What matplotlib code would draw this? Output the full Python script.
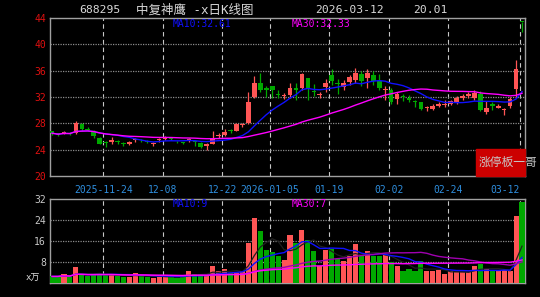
import matplotlib.pyplot as plt
import numpy as np
import pandas as pd

plt.rcParams['font.family'] = ['DejaVu Sans Mono', 'Noto Sans CJK SC']

# trading days (weekdays minus exchange holidays)
holidays = ['2026-01-01', '2026-01-02', '2026-02-16', '2026-02-17', '2026-02-18',
            '2026-02-19', '2026-02-20', '2026-02-23']
dates = pd.bdate_range('2025-11-11', '2026-03-12')
dates = dates[~dates.isin(pd.to_datetime(holidays))]

opens = [26.8, 26.5, 26.5, 26.6, 26.5, 27.9, 27.2, 26.9, 25.8, 25.1,
         25.2, 25.3, 25.0, 24.8, 25.4, 25.5, 25.3, 24.8, 25.4, 25.6,
         25.8, 25.2, 25.1, 25.3, 25.3, 25.0, 24.5, 24.9, 26.1, 26.2,
         27.0, 26.9, 27.7, 28.1, 32.0, 34.2, 33.3, 33.6, 32.4, 32.1,
         32.3, 33.3, 33.3, 34.9, 32.9, 32.3, 33.5, 35.3, 34.1, 33.5,
         34.3, 34.6, 35.5, 34.9, 35.3, 34.4, 33.0, 33.1, 31.7, 32.2,
         31.8, 31.3, 31.2, 30.3, 30.2, 30.7, 30.8, 31.0, 31.2, 31.9,
         32.2, 31.9, 32.5, 29.7, 30.9, 30.4, 30.1, 30.7, 33.2, 43.46]
highs = [26.9, 26.6, 26.8, 26.7, 28.4, 28.0, 27.4, 27.0, 25.9, 25.3,
         25.9, 25.4, 25.2, 25.3, 25.8, 25.6, 25.4, 25.1, 25.8, 26.0,
         25.9, 25.3, 25.2, 25.7, 25.4, 25.1, 25.0, 26.9, 26.6, 27.2,
         27.2, 28.0, 28.1, 32.7, 35.2, 35.7, 33.7, 33.7, 33.0, 32.6,
         34.1, 34.1, 35.6, 34.9, 34.0, 32.8, 34.8, 36.2, 34.8, 34.6,
         35.4, 36.4, 35.9, 36.2, 35.9, 35.5, 33.6, 33.3, 32.8, 32.4,
         32.3, 31.5, 31.3, 30.7, 30.9, 31.3, 31.5, 31.6, 32.2, 32.4,
         32.7, 33.0, 32.9, 31.4, 31.2, 30.9, 30.3, 32.0, 37.6, 43.46]
lows = [26.3, 26.0, 26.4, 26.2, 26.4, 26.9, 26.8, 25.7, 24.8, 24.4,
        24.9, 24.9, 24.6, 24.7, 25.2, 25.1, 25.0, 24.6, 25.2, 25.5,
        25.4, 25.0, 24.9, 25.2, 24.6, 24.2, 23.9, 24.8, 25.7, 26.1,
        26.5, 26.8, 27.5, 27.9, 31.9, 32.8, 32.0, 31.8, 31.9, 31.7,
        31.8, 31.5, 33.1, 31.5, 32.2, 31.8, 32.8, 33.8, 32.4, 33.1,
        33.8, 34.1, 33.6, 33.3, 33.8, 33.1, 31.5, 31.0, 31.0, 31.4,
        31.2, 30.5, 30.0, 29.8, 30.0, 30.5, 30.5, 30.8, 31.0, 31.5,
        31.8, 31.6, 29.9, 29.4, 30.0, 30.3, 29.2, 30.4, 31.8, 41.9]
closes = [26.5, 26.2, 26.7, 26.4, 28.0, 27.1, 27.0, 26.1, 24.9, 25.0,
          25.4, 25.2, 24.9, 25.1, 25.6, 25.4, 25.2, 25.0, 25.6, 25.9,
          25.6, 25.1, 25.0, 25.6, 25.2, 24.4, 24.8, 25.8, 26.3, 26.7,
          26.8, 27.9, 27.9, 31.3, 34.2, 33.0, 33.1, 33.0, 32.3, 32.3,
          33.3, 33.1, 35.5, 33.2, 32.7, 32.5, 34.1, 34.5, 33.9, 34.1,
          35.0, 35.6, 34.4, 35.6, 34.4, 33.3, 33.2, 31.3, 32.4, 32.0,
          31.6, 31.2, 30.2, 30.5, 30.7, 31.0, 30.9, 31.4, 31.9, 32.1,
          32.4, 32.6, 30.0, 30.4, 30.7, 30.6, 30.2, 31.7, 36.2, 43.44]
volumes = [2.5, 2.5, 3.3, 2.3, 6.0, 3.2, 2.6, 3.2, 3.4, 3.3,
           3.2, 2.5, 2.4, 2.3, 3.9, 2.5, 2.3, 2.0, 2.4, 2.9,
           2.1, 2.0, 2.5, 4.7, 3.5, 3.5, 2.6, 6.3, 4.4, 5.2,
           3.9, 3.9, 4.4, 15.3, 24.8, 20.0, 12.5, 11.8, 10.2, 8.9,
           18.2, 15.3, 20.1, 16.3, 12.1, 6.4, 12.5, 13.1, 9.3, 8.4,
           10.3, 15.0, 10.3, 12.1, 10.2, 10.2, 10.5, 8.0, 6.3, 4.4,
           5.2, 4.4, 8.2, 4.4, 4.4, 4.8, 3.3, 4.4, 4.2, 4.2,
           4.2, 6.3, 7.1, 5.2, 4.4, 4.4, 4.8, 4.4, 25.6, 31.0]

tick_dates = ['2025-11-24', '2025-12-08', '2025-12-22', '2026-01-05',
              '2026-01-19', '2026-02-02', '2026-02-24', '2026-03-12']
tick_labels = ['2025-11-24', '12-08', '12-22', '2026-01-05',
               '01-19', '02-02', '02-24', '03-12']
price_ticks = [20, 24, 28, 32, 36, 40, 44]
vol_ticks = [8, 16, 24, 32]

RED = '#ff5555'
GREEN = '#00a800'
GRID = '#8c8c8c'
BG = 'black'

o = np.array(opens)
h = np.array(highs)
l = np.array(lows)
c = np.array(closes)
v = np.array(volumes)
x = np.arange(len(c))
up = c >= o
colors = np.where(up, RED, GREEN)

ma10 = pd.Series(c).rolling(10, min_periods=1).mean()
ma30 = pd.Series(c).rolling(30, min_periods=1).mean()
vma5 = pd.Series(v).rolling(5, min_periods=1).mean()
vma10 = pd.Series(v).rolling(10, min_periods=1).mean()
vma30 = pd.Series(v).rolling(30, min_periods=1).mean()
vma60 = pd.Series(v).rolling(60, min_periods=1).mean()

tick_idx = [dates.get_loc(pd.Timestamp(d)) - 0.4 for d in tick_dates]

fig = plt.figure(figsize=(5.4, 2.97), dpi=100, facecolor=BG)
W, H = 540, 297
ax = fig.add_axes([50 / W, 1 - 176 / H, 475 / W, 158 / H], facecolor=BG)
axv = fig.add_axes([50 / W, 1 - 283 / H, 475 / W, 84 / H], facecolor=BG)

for a in (ax, axv):
    for s in a.spines.values():
        s.set_color('#a0a0a0')
        s.set_linewidth(1.0)
    a.set_xlim(-0.35, 79.5)
    a.set_xticks([])
    for t in tick_idx:
        a.axvline(t, color='#c8c8c8', lw=0.8, ls=(0, (4, 3)), zorder=1)

# price panel
ax.set_ylim(20, 44)
for yv in price_ticks[1:-1]:
    ax.axhline(yv, color=GRID, lw=0.9, ls=(0, (1, 1)), zorder=1)
ax.set_yticks(price_ticks)
ax.tick_params(axis='y', length=0, pad=3, labelsize=7, labelcolor='#e01010')

body_lo = np.minimum(o, c)
body_h = np.maximum(np.abs(c - o), 0.13)
ax.vlines(x, l, h, colors=colors, lw=0.9, zorder=3)
ax.bar(x, body_h, bottom=body_lo, width=0.78, color=colors, zorder=4, linewidth=0)
ax.plot(x, ma10, color='#1010ff', lw=1.0, zorder=5)
ax.plot(x, ma30, color='#ff00ff', lw=1.0, zorder=5)

for t, lab in zip(tick_idx, tick_labels):
    ha = 'right' if lab == tick_labels[-1] else 'center'
    ax.text(t, -0.055, lab, transform=ax.get_xaxis_transform(), ha=ha, va='top',
            color='#2f8fdf', fontsize=7, clip_on=False)

ax.add_patch(plt.Rectangle((0.8975, 0.0), 0.1025, 0.17, transform=ax.transAxes,
                           color='#cc0000', zorder=6, clip_on=False))
ax.text(0.902, 0.085, '涨停板一哥', transform=ax.transAxes, ha='left', va='center',
        color='#c8c8c8', fontsize=8.5, family=['Noto Sans CJK SC'], zorder=7,
        clip_on=False)

# volume panel
axv.set_ylim(0, 32)
for yv in vol_ticks[:-1]:
    axv.axhline(yv, color=GRID, lw=0.9, ls=(0, (1, 1)), zorder=1)
axv.set_yticks(vol_ticks)
axv.tick_params(axis='y', length=0, pad=3, labelsize=7, labelcolor='#c8c8c8')
axv.bar(x, v, width=0.86, color=colors, zorder=3, linewidth=0)
axv.plot(x, vma5, color='#202020', lw=0.9, zorder=4)
axv.plot(x, vma10, color='#1010ff', lw=1.0, zorder=4)
axv.plot(x, vma30, color='#a000b0', lw=1.0, zorder=4)
axv.plot(x, vma60, color='#ff00ff', lw=1.0, zorder=4)
axv.text(-0.02, 0.06, 'x万', transform=axv.transAxes, ha='right', va='center',
         color='#e0e0e0', fontsize=6.5, clip_on=False)

# header and legends
fig.text(79 / W, 1 - 10 / H, '688295', color='#d8d8d8', fontsize=8.2, va='center')
fig.text(136 / W, 1 - 10 / H, '中复神鹰 -x日K线图', color='#d8d8d8', fontsize=9,
         va='center')
fig.text(315 / W, 1 - 10 / H, '2026-03-12', color='#d8d8d8', fontsize=8.2, va='center')
fig.text(413 / W, 1 - 10 / H, '20.01', color='#d8d8d8', fontsize=8.2, va='center')
fig.text(173 / W, 1 - 24 / H, 'MA10:%.2f' % 32.61, color='#1010ff', fontsize=7,
         va='center')
fig.text(292 / W, 1 - 24 / H, 'MA30:%.2f' % 32.33, color='#ff00ff', fontsize=7,
         va='center')
fig.text(173 / W, 1 - 204 / H, 'MA10:9', color='#1010ff', fontsize=7, va='center')
fig.text(292 / W, 1 - 204 / H, 'MA30:7', color='#ff00ff', fontsize=7, va='center')

fig.savefig('out.png', dpi=100, facecolor=BG)
